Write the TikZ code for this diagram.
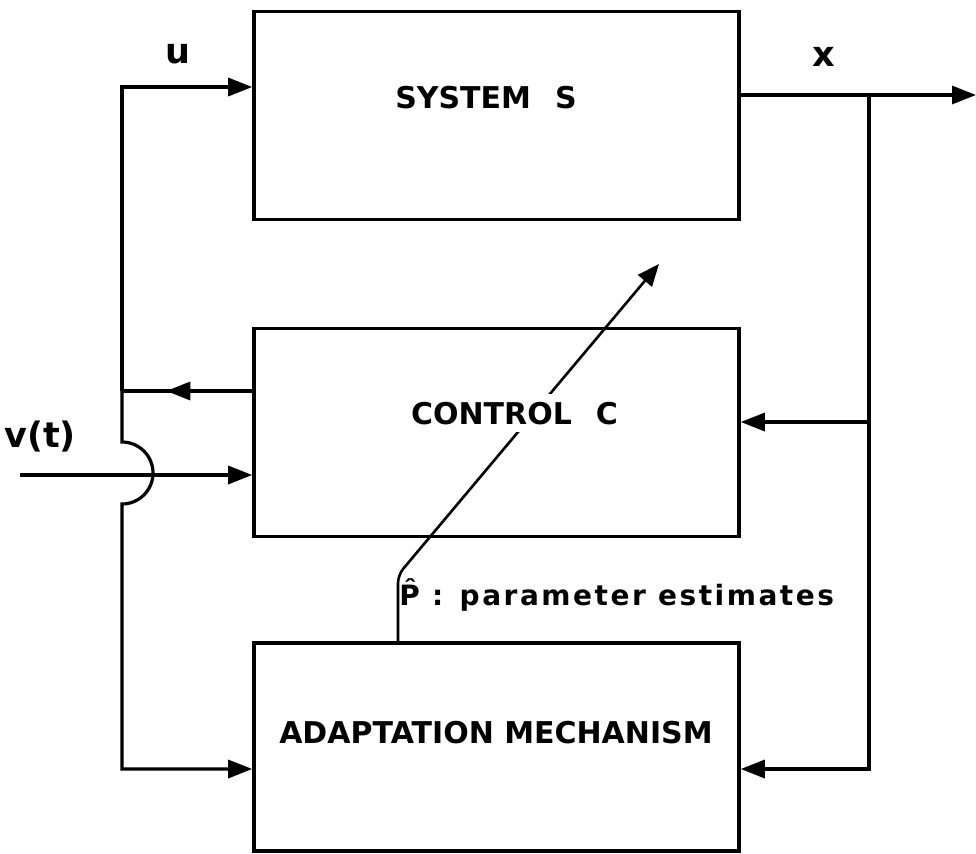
\documentclass[tikz,border=0pt]{standalone}
\usepackage{fontspec}
\setmainfont{DejaVu Sans}
\usetikzlibrary{arrows.meta,decorations.markings}

\begin{document}
\begin{tikzpicture}[x=0.5pt,y=-0.5pt,
  font=\bfseries\fontsize{15}{18}\selectfont,
  blk/.style={draw=black, line width=1.8pt, minimum width=242.5pt, minimum height=104pt, inner sep=0pt},
  lbl/.style={anchor=base, inner sep=0pt},
  siglbl/.style={lbl, font=\bfseries\fontsize{17.5}{20}\selectfont},
  wire/.style={line width=1.6pt},
  sig/.style={wire, -{Triangle[length=12pt,width=9pt]}},
  midtip/.style={wire, postaction={decorate},
    decoration={markings, mark=at position #1 with {\arrow{Triangle[length=12pt,width=9pt]}}}}]
  \useasboundingbox (0,0) rectangle (976,853);

  % blocks
  \node[blk] (sys) at (496.5,115.5) {};
  \node[blk] (ctrl) at (496.5,432.5) {};
  \node[blk] (adapt) at (496.5,747) {};
  \node[lbl] (syslbl) at (486,108) {SYSTEM\hspace{0.8em}S};
  \node[lbl] (adaptlbl) at (496,743) {ADAPTATION MECHANISM};

  % junctions
  \coordinate (ujoin) at (122,391);
  \coordinate (jtop) at (122,442);
  \coordinate (vstart) at (20,475);
  \coordinate (xjoin) at (869,95);
  \coordinate (xend) at (976,95);
  \coordinate (pbend) at (398,575);
  \coordinate (ptip) at (659,264);

  % control loop on the left
  \node[siglbl] (ulbl) at (178,63) {u};
  \draw[sig] (ujoin) |- (sys.west |- 0,87);
  \draw[midtip=0.66] (ctrl.west |- ujoin) -- (ujoin);
  \draw[sig] (ujoin) -- (jtop) arc[start angle=-90, end angle=90, radius=31] |- (adapt.west |- 0,769);

  \node[siglbl] (vlbl) at (40,447) {v(t)};
  \draw[sig] (vstart) -- (ctrl.west |- vstart);

  % state feedback on the right
  \node[siglbl] (xlbl) at (824,66) {x};
  \draw[sig] (sys.east |- xend) -- (xend);
  \draw[sig] (xjoin) |- (ctrl.east |- 0,422);
  \draw[sig] (xjoin |- 0,422) |- (adapt.east |- 0,769);

  % parameter estimates
  \draw[line width=1.3pt, rounded corners=4pt, -{Triangle[length=11pt,width=9pt]}]
    (adapt.north -| pbend) -- (pbend) -- (ptip);
  \node[fill=white, inner sep=4pt, anchor=base] (ctrllbl) at (514.5,424) {CONTROL\hspace{0.8em}C};
  \node[lbl, anchor=base west, font=\bfseries\fontsize{14}{17}\selectfont] (plbl) at (399,605)
    {\addfontfeature{LetterSpace=9}P̂ : parameter estimates};
\end{tikzpicture}
\end{document}
